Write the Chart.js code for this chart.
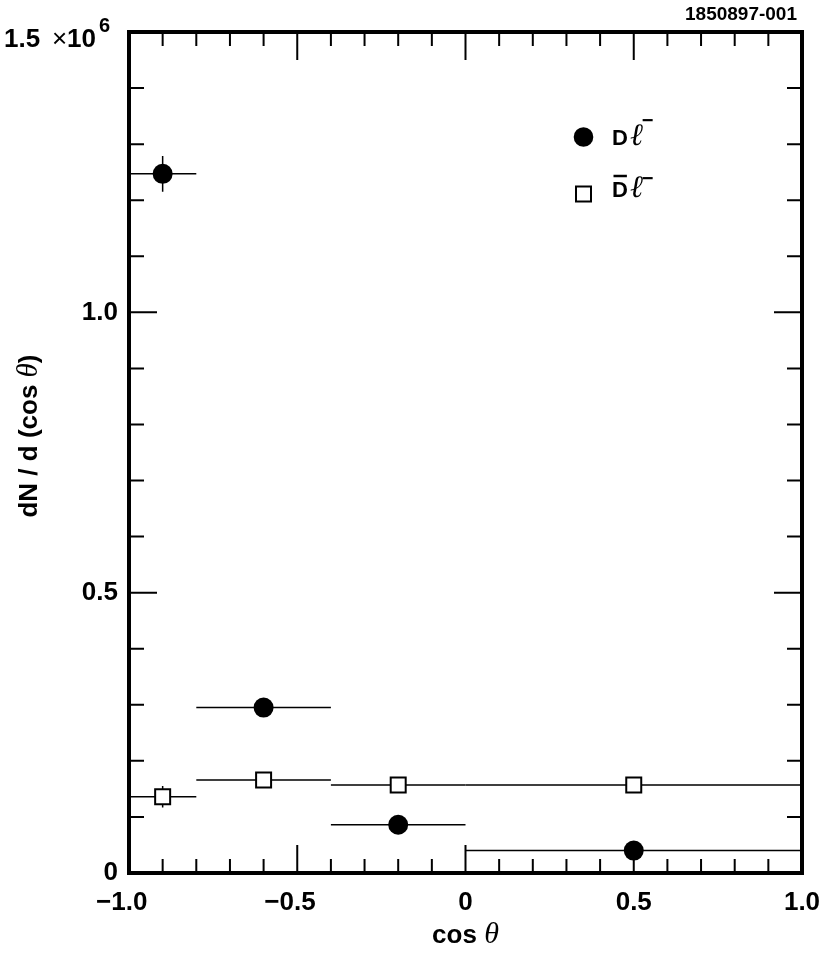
<!DOCTYPE html>
<html>
<head>
<meta charset="utf-8">
<script src="https://cdn.jsdelivr.net/npm/chart.js@4.4.1/dist/chart.umd.min.js"></script>
<style>
  html, body { margin: 0; padding: 0; background: #fff; }
  canvas { display: block; }
</style>
</head>
<body>
<canvas id="grafico" width="830" height="955"></canvas>
<script>
// bins em cos(theta)
const xCentros = [-0.9, -0.6, -0.2, 0.5];
const binInicio = [-1.0, -0.8, -0.4, 0.0];
const binFim = [-0.8, -0.4, 0.0, 1.0];

// D l-  (círculos cheios)
const valoresD = [1.247e6, 0.295e6, 0.086e6, 0.040e6];
const errosD = [0.032e6, 0.010e6, 0.007e6, 0.005e6];

// Dbar l-  (quadrados abertos)
const valoresDbar = [0.136e6, 0.166e6, 0.157e6, 0.157e6];
const errosDbar = [0.019e6, 0.009e6, 0.008e6, 0.006e6];

// eixos
const xTicks = [-1, -0.5, 0, 0.5, 1];
const xTickLabels = ['−1.0', '−0.5', '0', '0.5', '1.0'];
const yTicks = [0, 0.5e6, 1.0e6, 1.5e6];
const yTickLabels = ['0', '0.5', '1.0', ''];
const xMenor = 0.1;
const yMenor = 0.1e6;

const SANS = '"Liberation Sans", Arial, Helvetica, sans-serif';
const SERIF = '"Liberation Serif", "Times New Roman", serif';

function textoMisto(ctx, partes, x, y) {
    let total = 0;
    partes.forEach(p => { ctx.font = p.font; p.w = ctx.measureText(p.t).width; total += p.w; });
    let cx = x - total / 2;
    ctx.textAlign = 'left';
    partes.forEach(p => { ctx.font = p.font; ctx.fillText(p.t, cx, y); cx += p.w; });
}

// "Dℓ−" com barra opcional sobre o D
function rotuloLegenda(ctx, x, base, barra, yMenos) {
    ctx.font = 'bold 22px ' + SANS;
    const wD = ctx.measureText('D').width;
    ctx.fillText('D', x, base);
    if (barra) {
        ctx.lineWidth = 2.5;
        ctx.beginPath();
        ctx.moveTo(x + 1.5, base - 21); ctx.lineTo(x + wD - 1, base - 21);
        ctx.stroke();
    }
    ctx.font = 'italic 31px ' + SERIF;
    ctx.fillText('ℓ', x + wD + 2, base);
    const wL = ctx.measureText('ℓ').width;
    ctx.font = 'bold 20px ' + SANS;
    ctx.fillText('−', x + wD + wL + 1, yMenos);
}

const molduraPlugin = {
    id: 'moldura',
    beforeDatasetsDraw(chart) {
        // barras de erro
        const { ctx, scales: { x, y } } = chart;
        ctx.save();
        ctx.strokeStyle = '#000';
        ctx.lineWidth = 1.5;
        [[valoresD, errosD], [valoresDbar, errosDbar]].forEach(([vals, errs]) => {
            vals.forEach((v, i) => {
                const py = y.getPixelForValue(v);
                const px = x.getPixelForValue(xCentros[i]);
                ctx.beginPath();
                ctx.moveTo(x.getPixelForValue(binInicio[i]), py);
                ctx.lineTo(x.getPixelForValue(binFim[i]), py);
                ctx.moveTo(px, y.getPixelForValue(v - errs[i]));
                ctx.lineTo(px, y.getPixelForValue(v + errs[i]));
                ctx.stroke();
            });
        });
        ctx.restore();
    },
    afterDraw(chart) {
        const { ctx, chartArea: a, scales: { x, y } } = chart;
        ctx.save();
        ctx.strokeStyle = '#000';
        ctx.fillStyle = '#000';

        // ticks para dentro, nos quatro lados
        ctx.lineWidth = 2;
        ctx.beginPath();
        for (let k = 0; k <= Math.round((x.max - x.min) / xMenor); k++) {
            const v = x.min + k * xMenor;
            const px = x.getPixelForValue(v);
            const major = k % 5 === 0;
            const len = major ? 28 : 14;
            ctx.moveTo(px, a.bottom); ctx.lineTo(px, a.bottom - len);
            ctx.moveTo(px, a.top); ctx.lineTo(px, a.top + len);
        }
        for (let k = 0; k <= Math.round((y.max - y.min) / yMenor); k++) {
            const v = y.min + k * yMenor;
            const py = y.getPixelForValue(v);
            const major = k % 5 === 0;
            const len = major ? 28 : 15;
            ctx.moveTo(a.left, py); ctx.lineTo(a.left + len, py);
            ctx.moveTo(a.right, py); ctx.lineTo(a.right - len, py);
        }
        ctx.stroke();

        // moldura
        ctx.lineWidth = 4;
        ctx.strokeRect(a.left, a.top, a.right - a.left, a.bottom - a.top);

        // rótulo do topo do eixo y
        ctx.textBaseline = 'alphabetic';
        ctx.textAlign = 'left';
        ctx.font = 'bold 26px ' + SANS;
        ctx.fillText('1.5', 4, 47);
        ctx.font = '26px ' + SANS;
        ctx.fillText('×', 52, 47);
        ctx.font = 'bold 26px ' + SANS;
        ctx.fillText('10', 67, 47);
        ctx.font = 'bold 20px ' + SANS;
        ctx.fillText('6', 99, 32);

        // identificador
        ctx.textAlign = 'right';
        ctx.font = 'bold 19px ' + SANS;
        ctx.fillText('1850897-001', 797, 20);

        // título eixo x
        textoMisto(ctx, [
            { t: 'cos ', font: 'bold 26px ' + SANS },
            { t: 'θ', font: 'italic 30px ' + SERIF }
        ], (a.left + a.right) / 2, 943);

        // título eixo y
        ctx.save();
        ctx.translate(37, 436);
        ctx.rotate(-Math.PI / 2);
        textoMisto(ctx, [
            { t: 'dN / d (cos ', font: 'bold 26px ' + SANS },
            { t: 'θ', font: 'italic 29px ' + SERIF },
            { t: ')', font: 'bold 26px ' + SANS }
        ], 0, 0);
        ctx.restore();

        // legenda
        ctx.beginPath();
        ctx.arc(583.5, 137, 9.8, 0, Math.PI * 2);
        ctx.fill();
        ctx.fillStyle = '#fff';
        ctx.lineWidth = 2;
        ctx.fillRect(576, 186.5, 15, 15);
        ctx.strokeRect(576, 186.5, 15, 15);
        ctx.fillStyle = '#000';

        ctx.textAlign = 'left';
        rotuloLegenda(ctx, 612, 145, false, 127);
        rotuloLegenda(ctx, 612, 197, true, 185);

        ctx.restore();
    }
};

const ctx = document.getElementById('grafico').getContext('2d');
new Chart(ctx, {
    type: 'scatter',
    data: {
        datasets: [
            {
                label: 'Dℓ−',
                data: xCentros.map((xv, i) => ({ x: xv, y: valoresD[i] })),
                pointStyle: 'circle',
                pointRadius: 10,
                backgroundColor: '#000',
                borderColor: '#000',
                borderWidth: 0
            },
            {
                label: 'D̄ℓ−',
                data: xCentros.map((xv, i) => ({ x: xv, y: valoresDbar[i] })),
                pointStyle: 'rect',
                pointRadius: 10.6,
                backgroundColor: '#fff',
                borderColor: '#000',
                borderWidth: 2
            }
        ]
    },
    options: {
        responsive: false,
        animation: false,
        layout: { padding: { left: 0, top: 32, right: 28, bottom: 0 } },
        plugins: { legend: { display: false }, tooltip: { enabled: false } },
        scales: {
            x: {
                type: 'linear',
                min: -1,
                max: 1,
                grid: { display: false, drawTicks: false },
                border: { display: false },
                afterBuildTicks: s => { s.ticks = xTicks.map(v => ({ value: v })); },
                afterFit: s => { s.height = 82; s.paddingLeft = 0; s.paddingRight = 0; },
                ticks: {
                    autoSkip: false,
                    maxRotation: 0,
                    padding: 14,
                    color: '#000',
                    font: { family: SANS, size: 26, weight: 'bold' },
                    callback: (v, i) => {
                        const l = xTickLabels[i];
                        return l.startsWith('−') ? l + '  ' : l;
                    }
                }
            },
            y: {
                type: 'linear',
                min: 0,
                max: 1.5e6,
                grid: { display: false, drawTicks: false },
                border: { display: false },
                afterBuildTicks: s => { s.ticks = yTicks.map(v => ({ value: v })); },
                afterFit: s => { s.width = 129; s.paddingTop = 0; s.paddingBottom = 0; },
                ticks: {
                    autoSkip: false,
                    padding: 11,
                    color: '#000',
                    font: { family: SANS, size: 26, weight: 'bold' },
                    callback: (v, i) => yTickLabels[i]
                }
            }
        }
    },
    plugins: [molduraPlugin]
});
</script>
</body>
</html>
